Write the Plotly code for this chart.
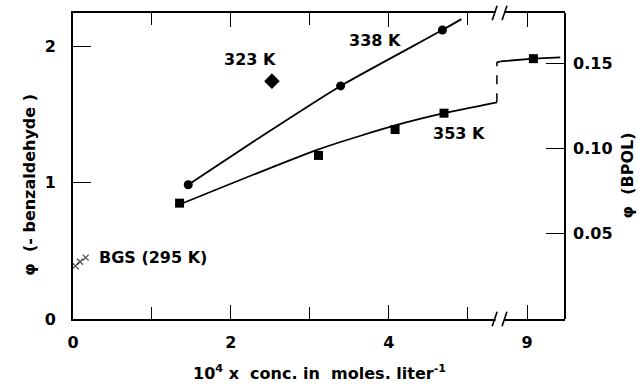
import plotly.graph_objects as go

# ---- data ----
x338 = [1.46, 3.39, 4.68]
y338 = [0.985, 1.71, 2.12]
fit338_x = [1.46, 2.4, 3.39, 4.68, 4.92]
fit338_y = [0.985, 1.345, 1.71, 2.12, 2.20]

x323 = [2.52]
y323 = [1.745]

x353 = [1.35, 3.11, 4.08, 4.70]
y353 = [0.85, 1.20, 1.39, 1.51]
fit353_x = [1.35, 3.11, 4.08, 4.70, 5.37]
fit353_y = [0.84, 1.245, 1.42, 1.51, 1.59]

jump_x = [5.37, 5.37]
jump_y = [1.59, 1.885]
upper_left_x = [5.37, 5.45]
upper_left_y = [1.885, 1.887]

x353b = [9.08]
y353b = [1.91]
fit353b_x = [8.66, 9.08, 9.42]
fit353b_y = [1.89, 1.91, 1.92]

xbgs = [0.03, 0.09, 0.16]
ybgs = [0.39, 0.42, 0.45]

xticks_left = [0, 2, 4]
xminor_left = [1, 3, 5]
xticks_right = [9]
yticks_left = [0, 1, 2]
yticks_right = [0.05, 0.10, 0.15]
yticktext_right = ["0.05", "0.10", "0.15"]

FONT = dict(family="DejaVu Sans", size=16, color="black", weight="bold")
BLK = "black"
D1 = 0.868

fig = go.Figure()
line = dict(color=BLK, width=1.8)
fig.add_trace(go.Scatter(x=fit338_x, y=fit338_y, mode="lines",
                         line=dict(color=BLK, width=1.8, shape="spline", smoothing=0.6)))
fig.add_trace(go.Scatter(x=x338, y=y338, mode="markers", marker=dict(symbol="circle", size=9, color=BLK)))
fig.add_trace(go.Scatter(x=x323, y=y323, mode="markers", marker=dict(symbol="diamond", size=12, color=BLK)))
fig.add_trace(go.Scatter(x=fit353_x, y=fit353_y, mode="lines",
                         line=dict(color=BLK, width=1.8, shape="spline", smoothing=0.6)))
fig.add_trace(go.Scatter(x=x353, y=y353, mode="markers", marker=dict(symbol="square", size=9, color=BLK)))
fig.add_trace(go.Scatter(x=jump_x, y=jump_y, mode="lines", line=dict(color=BLK, width=1.5, dash="dash")))
fig.add_trace(go.Scatter(x=upper_left_x, y=upper_left_y, mode="lines", line=line))
fig.add_trace(go.Scatter(x=xbgs, y=ybgs, mode="markers",
                         marker=dict(symbol="x-thin-open", size=[7, 6, 6], color=BLK,
                                     line=dict(width=1.3, color=BLK)), cliponaxis=False))
fig.add_trace(go.Scatter(x=fit353b_x, y=fit353b_y, mode="lines", line=line, xaxis="x2", yaxis="y"))
fig.add_trace(go.Scatter(x=x353b, y=y353b, mode="markers", marker=dict(symbol="square", size=9, color=BLK),
                         xaxis="x2", yaxis="y"))
# empty trace so the right-hand axis is drawn
fig.add_trace(go.Scatter(x=[None], y=[None], xaxis="x", yaxis="y2"))

common_x = dict(showline=True, linecolor=BLK, linewidth=1.8, mirror="ticks", ticks="inside",
                ticklen=14, tickwidth=1.3, tickcolor=BLK, showgrid=False, zeroline=False,
                tickfont=FONT, ticklabelstandoff=8)
fig.update_layout(
    width=639, height=389,
    margin=dict(l=73, r=74, t=13, b=70),
    paper_bgcolor="white", plot_bgcolor="white",
    showlegend=False,
    xaxis=dict(domain=[0, D1], range=[0, 5.41], tickvals=xticks_left,
               minor=dict(tickvals=xminor_left, ticks="inside", ticklen=12, tickwidth=1.3,
                          tickcolor=BLK, showgrid=False),
               anchor="y", **common_x),
    xaxis2=dict(domain=[D1, 1], range=[8.658, 9.48], tickvals=xticks_right,
                anchor="y", **common_x),
    yaxis=dict(range=[0, 2.245], tickvals=yticks_left, showline=True,
               linecolor=BLK, linewidth=1.8, ticks="inside", ticklen=18, tickwidth=1.3,
               tickcolor=BLK, showgrid=False, zeroline=False, tickfont=FONT,
               ticklabelstandoff=12, anchor="x"),
    yaxis2=dict(range=[0, 2.245 * 0.08], overlaying="y", side="right", anchor="free", position=1,
                tickvals=yticks_right, ticktext=yticktext_right, showline=True, linecolor=BLK,
                linewidth=1.8, ticks="inside", ticklen=18, tickwidth=1.3, tickcolor=BLK,
                showgrid=False, zeroline=False, tickfont=FONT, ticklabelstandoff=4),
)

# text labels
fig.add_annotation(x=2.24, y=1.905, text="323 K", showarrow=False, font=FONT, xref="x", yref="y")
fig.add_annotation(x=3.82, y=2.04, text="338 K", showarrow=False, font=FONT, xref="x", yref="y")
fig.add_annotation(x=4.89, y=1.36, text="353 K", showarrow=False, font=FONT, xref="x", yref="y")
fig.add_annotation(x=0.31, y=0.45, text="BGS (295 K)", showarrow=False, font=FONT, xref="x", yref="y",
                   xanchor="left")

# axis titles
fig.add_annotation(x=0.5, y=-0.175, xref="paper", yref="paper", showarrow=False, yanchor="middle",
                   text="10<sup>4</sup> x  conc. in  moles. liter<sup>-1</sup>", font=FONT)
fig.add_annotation(x=-0.112, y=0.44, xref="paper", yref="paper", showarrow=False, textangle=-90,
                   text="φ  (- benzaldehyde )", font=FONT)
fig.add_annotation(x=1.15, y=0.47, xref="paper", yref="paper", showarrow=False, textangle=-90,
                   text="φ  (BPOL)", font=FONT)

# axis break marks
for yb in (0, 1):
    fig.add_shape(type="rect", xref="paper", yref="paper", x0=D1 - 0.009, x1=D1 + 0.009,
                  y0=yb - 0.01, y1=yb + 0.01, fillcolor="white", line=dict(width=0), layer="above")
    for dx in (-0.011, 0.009):
        fig.add_shape(type="line", xref="paper", yref="paper", x0=D1 + dx - 0.005, x1=D1 + dx + 0.005,
                      y0=yb - 0.024, y1=yb + 0.024, line=dict(color=BLK, width=1.6), layer="above")

fig.write_html("out.html")
